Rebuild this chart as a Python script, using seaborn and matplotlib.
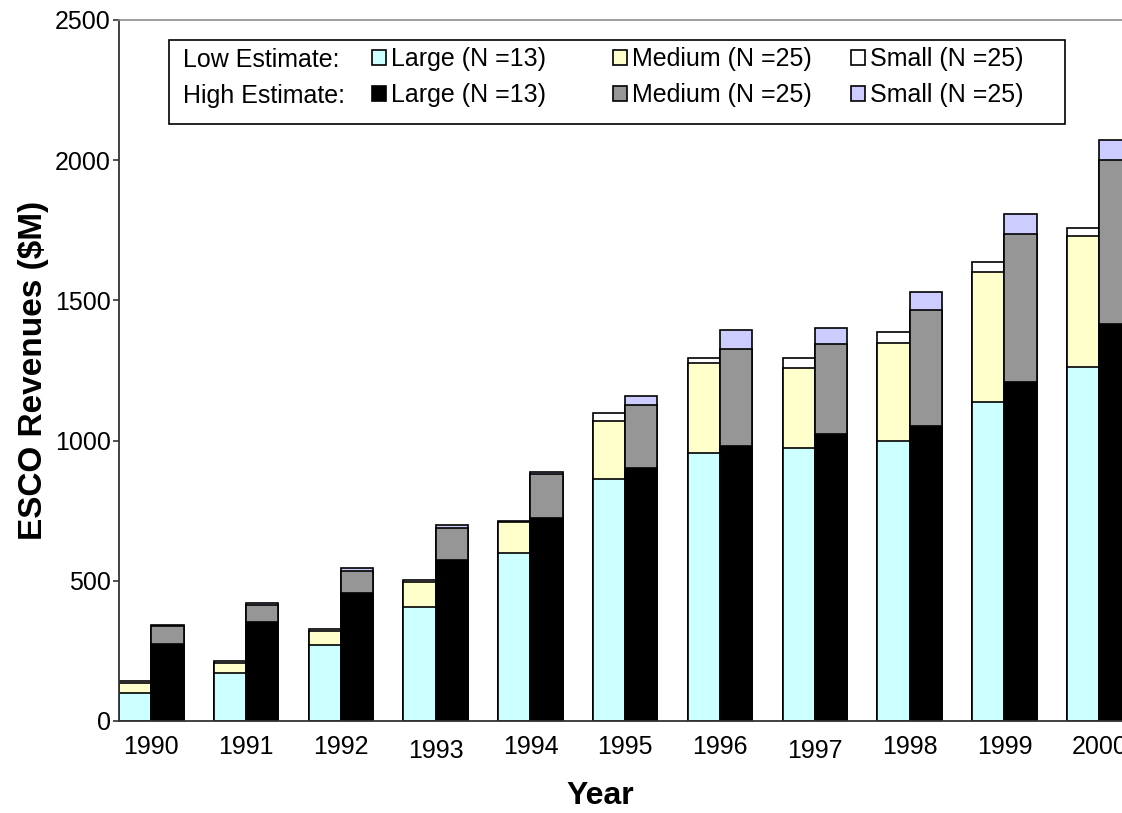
import pandas as pd
import matplotlib.pyplot as plt
import matplotlib.transforms as mtransforms
from matplotlib.patches import Patch, Rectangle
import seaborn as sns

# estilo
sns.set_style("white")
plt.rcParams['font.family'] = ['Liberation Sans', 'DejaVu Sans']
plt.rcParams['text.color'] = 'black'
plt.rcParams['axes.labelcolor'] = 'black'
plt.rcParams['xtick.color'] = 'black'
plt.rcParams['ytick.color'] = 'black'

# dados ($M)
anos = [1990, 1991, 1992, 1993, 1994, 1995, 1996, 1997, 1998, 1999, 2000]
baixa_large = [100, 171, 271, 407, 600, 863, 957, 975, 997, 1137, 1264]
baixa_medium = [37, 37, 50, 87, 108, 208, 320, 283, 352, 463, 465]
baixa_small = [4, 7, 6, 7, 6, 28, 17, 36, 38, 37, 29]
alta_large = [275, 354, 455, 574, 724, 901, 982, 1025, 1051, 1208, 1417]
alta_medium = [62, 59, 81, 113, 157, 226, 345, 318, 413, 527, 583]
alta_small = [5, 9, 9, 13, 6, 31, 66, 58, 66, 72, 71]

rotulos = {'Large': 'Large (N =13)', 'Medium': 'Medium (N =25)', 'Small': 'Small (N =25)'}
cores_baixa = {'Large': '#CCFFFF', 'Medium': '#FFFFCC', 'Small': '#FFFFFF'}
cores_alta = {'Large': '#000000', 'Medium': '#969696', 'Small': '#CCCCFF'}

dados = pd.DataFrame({
    'Year': anos * 2,
    'Estimate': ['Low'] * len(anos) + ['High'] * len(anos),
    'Large': baixa_large + alta_large,
    'Medium': baixa_medium + alta_medium,
    'Small': baixa_small + alta_small,
})
dados['Large+Medium'] = dados['Large'] + dados['Medium']
dados['Total'] = dados['Large+Medium'] + dados['Small']

fig = plt.figure(figsize=(11.22, 8.13), dpi=100)
ax = fig.add_axes([0.1061, 0.1132, 0.8939, 0.8622])

# barras empilhadas: desenha o total e depois as partes de baixo por cima
for coluna, segmento in [('Total', 'Small'), ('Large+Medium', 'Medium'), ('Large', 'Large')]:
    sns.barplot(data=dados, x='Year', y=coluna, hue='Estimate', hue_order=['Low', 'High'],
                palette=[cores_baixa[segmento], cores_alta[segmento]], saturation=1,
                width=0.68, gap=0, errorbar=None, edgecolor='black', linewidth=1.2,
                legend=False, ax=ax)

ax.set_xlim(-0.34, 10.24)
ax.set_ylim(0, 2500)
ax.set_yticks(range(0, 2501, 500))

ax.spines['right'].set_visible(False)
ax.spines['top'].set_color('#8c8c8c')
ax.spines['top'].set_linewidth(1.2)
for lado in ['left', 'bottom']:
    ax.spines[lado].set_color('#333333')
    ax.spines[lado].set_linewidth(1.3)

ax.tick_params(axis='y', direction='out', length=4, width=1.2, color='#333333',
               labelsize=18, pad=2, left=True)
ax.tick_params(axis='x', length=0, labelsize=18, pad=10)

# 1993 e 1997 ficam um pouco mais baixos no original
desloc = mtransforms.ScaledTranslation(0, -3 / 72, fig.dpi_scale_trans)
for rotulo in ax.get_xticklabels():
    if rotulo.get_text() in ('1993', '1997'):
        rotulo.set_transform(rotulo.get_transform() + desloc)

ax.set_xlabel('Year', fontsize=23, fontweight='bold')
ax.set_ylabel('ESCO Revenues ($M)', fontsize=24, fontweight='bold')
ax.xaxis.set_label_coords(0.48, -0.107)
ax.xaxis.label.set_va('center')
ax.yaxis.set_label_coords(-0.0857, 0.5)
ax.yaxis.label.set_va('center')

# legenda em caixa
W, H = 1122, 813
caixa = Rectangle((169 / W, 1 - 124 / H), (1065 - 169) / W, 84 / H, transform=fig.transFigure,
                  facecolor='white', edgecolor='black', linewidth=1.2, zorder=3)
fig.add_artist(caixa)
fig.text(183 / W, 1 - 67 / H, 'Low Estimate:', fontsize=18, va='baseline', zorder=4)
fig.text(183 / W, 1 - 103 / H, 'High Estimate:', fontsize=18, va='baseline', zorder=4)
for seg, x_px in [('Large', 372), ('Medium', 613), ('Small', 851)]:
    alcas = [Patch(facecolor=cores_baixa[seg], edgecolor='black', linewidth=1.2),
             Patch(facecolor=cores_alta[seg], edgecolor='black', linewidth=1.2)]
    leg = fig.legend(alcas, [rotulos[seg], rotulos[seg]], loc='upper left',
                     bbox_to_anchor=(x_px / W, 1 - 47 / H), bbox_transform=fig.transFigure,
                     frameon=False, fontsize=18, borderpad=0, borderaxespad=0,
                     handlelength=0.55, handleheight=0.55, handletextpad=0.2,
                     labelspacing=0.48)
    leg.set_zorder(5)

plt.savefig('out.png', dpi=100)
